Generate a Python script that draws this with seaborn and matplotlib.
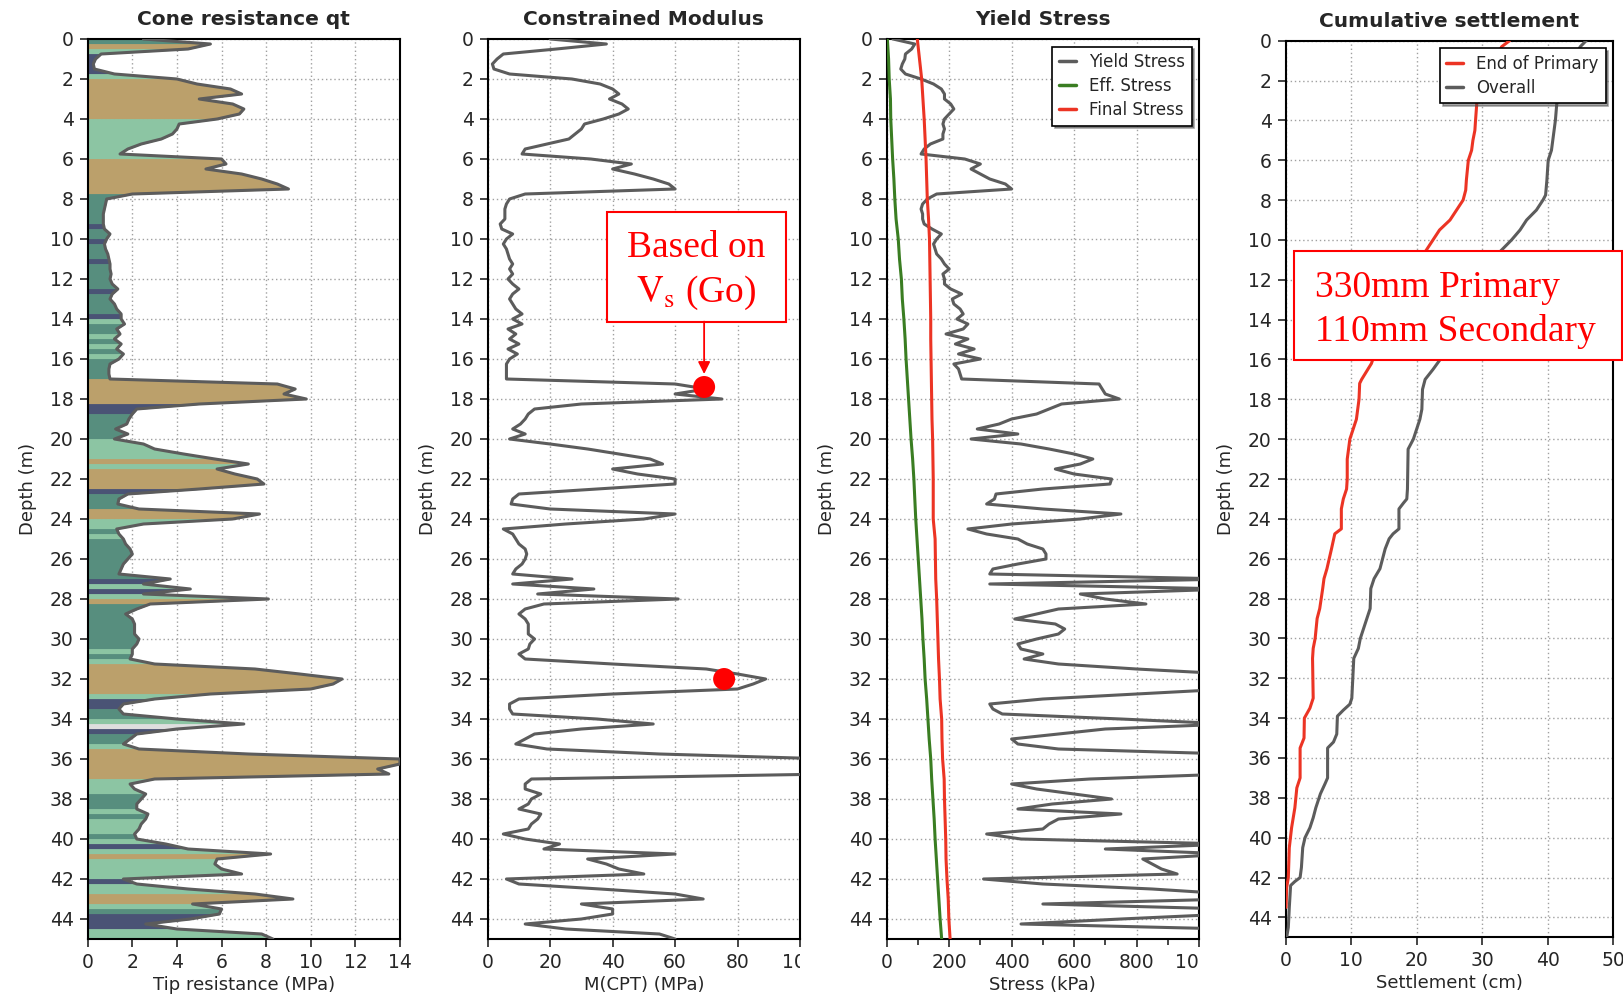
import numpy as np
import matplotlib
matplotlib.use("Agg")
import matplotlib.pyplot as plt
from matplotlib.patches import Rectangle
from matplotlib.ticker import MultipleLocator
from matplotlib.transforms import Bbox, TransformedBbox
import seaborn as sns

# CPT log sampled every 0.25 m from 0 to 45 m
depth = np.arange(181) * 0.25

qt = [2.5, 5.5, 4.5, 0.6, 0.35, 0.25, 0.3, 1.2,       # 0 - 1.75
      4.0, 4.9, 6.4, 6.9, 5.0, 6.5, 7.0, 6.8,         # 2
      5.8, 4.1, 4.0, 3.8, 3.3, 2.4, 1.8, 1.45,        # 4
      6.0, 6.2, 5.3, 6.9, 7.8, 8.5, 9.0, 2.0,         # 6
      0.85, 0.8, 0.75, 0.7, 0.7, 0.7, 0.75, 1.0,      # 8
      0.85, 0.75, 0.8, 0.9, 0.95, 1.0, 1.0, 1.05,     # 10
      1.0, 1.1, 1.35, 1.1, 1.0, 1.2, 1.3, 1.5,        # 12
      1.5, 1.65, 1.3, 1.45, 1.2, 1.5, 1.3, 1.6,       # 14
      1.4, 1.0, 0.95, 0.95, 1.0, 8.5, 9.3, 8.8,       # 16
      9.8, 5.0, 2.2, 2.0, 1.85, 1.75, 1.25, 1.8,      # 18
      1.2, 2.5, 3.0, 4.3, 5.7, 7.2, 5.8, 6.6,         # 20
      7.6, 7.9, 5.0, 1.8, 1.4, 1.35, 2.3, 7.7,        # 22
      6.5, 2.5, 1.3, 1.4, 1.6, 1.7, 1.9, 2.0,         # 24
      1.8, 1.6, 1.5, 1.4, 3.7, 2.5, 4.6, 2.5,         # 26
      8.1, 2.8, 2.2, 1.7, 2.0, 2.1, 2.1, 2.1,         # 28
      2.3, 2.2, 2.0, 2.0, 1.9, 3.0, 7.5, 9.5,         # 30
      11.4, 11.0, 10.0, 5.5, 3.0, 1.6, 1.4, 1.6,      # 32
      4.0, 7.0, 4.0, 2.2, 1.9, 1.6, 2.3, 7.2,         # 34
      14.0, 14.0, 13.0, 13.5, 3.0, 1.9, 2.1, 2.6,     # 36
      2.4, 2.2, 2.2, 2.7, 2.6, 2.4, 2.3, 2.1,         # 38
      2.2, 3.5, 4.5, 8.2, 5.8, 5.7, 6.0, 6.9,         # 40
      1.6, 2.2, 4.5, 7.5, 9.2, 4.7, 6.0, 5.9,         # 42
      4.6, 2.6, 4.0, 7.8, 8.3]                        # 44 - 45

m_cpt = [20, 38, 22, 5, 3, 1.5, 2, 7,
         27, 36, 40, 42, 39, 43, 45, 42,
         37, 31, 30, 28, 26, 19, 12, 11,
         33, 46, 40, 47, 53, 58, 60, 12,
         7, 6, 5.5, 5.5, 5.5, 4, 4.5, 8,
         6, 5, 6, 6.5, 7, 8, 7, 8,
         6.5, 8, 10, 8, 7, 8, 9, 11,
         8, 11, 6.5, 9, 7, 10, 6.5, 9.5,
         7, 6, 6, 6, 6, 60, 70, 60,
         75, 30, 15, 13, 12, 10.5, 8, 12,
         7, 20, 32, 42, 52, 56, 40, 48,
         60, 60, 35, 10, 8, 7.5, 20, 60,
         50, 25, 5, 8, 9, 10, 12, 12.5,
         12, 11, 9, 8, 27, 8, 34, 16,
         61, 18, 12, 10, 12, 13, 13, 13,
         15, 13.5, 13, 10, 12, 40, 70, 80,
         89, 85, 80, 40, 10, 7, 7, 8,
         35, 53, 30, 15, 12, 9, 19, 55,
         110, 110, 110, 110, 14, 12, 12, 17,
         14, 13, 10, 17, 16, 14, 13, 5,
         12, 23, 18, 60, 32, 38, 42, 50,
         6, 10, 36, 60, 69, 30, 40, 40,
         30, 12, 25, 55, 60]

yield_stress = [20, 90, 80, 60, 58, 50, 45, 60,
                110, 150, 175, 185, 185, 205, 215, 200,
                185, 180, 185, 180, 180, 140, 120, 110,
                250, 300, 270, 300, 330, 380, 400, 160,
                130, 115, 110, 115, 115, 120, 145, 175,
                160, 150, 155, 160, 175, 185, 200, 180,
                185, 185, 205, 240, 210, 215, 235, 245,
                225, 260, 245, 190, 260, 220, 280, 230,
                300, 215, 230, 235, 240, 680, 690, 700,
                745, 560, 520, 480, 400, 360, 290, 420,
                270, 430, 520, 600, 660, 620, 540, 600,
                720, 715, 500, 350, 345, 320, 500, 750,
                620, 400, 260, 320, 420, 450, 500, 510,
                510, 420, 340, 330, 1100, 330, 1100, 620,
                700, 830, 550, 480, 410, 540, 570, 550,
                480, 420, 430, 500, 440, 550, 800, 1100,
                1100, 1100, 1100, 800, 500, 330, 340, 370,
                750, 1100, 700, 550, 400, 420, 550, 1100,
                1100, 1100, 1100, 1100, 650, 400, 480, 600,
                720, 530, 420, 750, 550, 520, 500, 320,
                430, 1100, 700, 1100, 820, 850, 880, 930,
                310, 500, 850, 1100, 1100, 500, 1100, 1100,
                750, 430, 1100, 1100, 1100]

# soil behaviour bands (top, bottom, type)
soil_bands = [
    (0, 0.25, "T"), (0.25, 0.5, "S"), (0.5, 0.75, "G"), (0.75, 1.75, "B"), (1.75, 2, "G"),
    (2, 4, "S"), (4, 6, "G"), (6, 7.75, "S"), (7.75, 9.25, "T"), (9.25, 9.5, "B"),
    (9.5, 10, "T"), (10, 10.25, "B"), (10.25, 11, "T"), (11, 11.25, "B"), (11.25, 12.5, "T"),
    (12.5, 12.75, "B"), (12.75, 13.75, "T"), (13.75, 14, "B"), (14, 14.25, "G"), (14.25, 14.75, "T"),
    (14.75, 15, "G"), (15, 15.25, "T"), (15.25, 15.5, "G"), (15.5, 15.75, "T"), (15.75, 16, "G"),
    (16, 17, "T"), (17, 18.25, "S"), (18.25, 18.75, "B"), (18.75, 20, "T"), (20, 21, "G"),
    (21, 21.25, "S"), (21.25, 21.5, "G"), (21.5, 22.5, "S"), (22.5, 22.75, "B"), (22.75, 23.5, "T"),
    (23.5, 24, "S"), (24, 24.5, "G"), (24.5, 24.75, "T"), (24.75, 25, "G"), (25, 27, "T"),
    (27, 27.25, "B"), (27.25, 27.5, "G"), (27.5, 27.75, "B"), (27.75, 28, "G"), (28, 28.25, "S"),
    (28.25, 30.5, "T"), (30.5, 30.75, "G"), (30.75, 31, "T"), (31, 31.25, "G"), (31.25, 32.75, "S"),
    (32.75, 33, "G"), (33, 33.5, "B"), (33.5, 34, "T"), (34, 34.25, "G"), (34.25, 34.5, "W"),
    (34.5, 34.75, "B"), (34.75, 35.25, "T"), (35.25, 35.5, "G"), (35.5, 37, "S"), (37, 37.75, "G"),
    (37.75, 38.5, "T"), (38.5, 38.75, "G"), (38.75, 39, "T"), (39, 39.75, "G"), (39.75, 40, "T"),
    (40, 40.25, "G"), (40.25, 40.5, "B"), (40.5, 40.75, "G"), (40.75, 41, "S"), (41, 42, "G"),
    (42, 42.25, "B"), (42.25, 42.75, "G"), (42.75, 43.25, "S"), (43.25, 43.5, "G"), (43.5, 43.75, "T"),
    (43.75, 44.5, "B"), (44.5, 45, "G"),
]
soil_colors = {"S": "#bba06b", "G": "#8cc5a3", "T": "#578e7e", "B": "#4a5375", "W": "#dedede"}

# stresses every 1 m
stress_depth = np.arange(46)
eff_stress = [2, 6, 8, 12, 13, 16, 19, 23, 26, 30,
              37, 41, 47, 50, 55, 59, 62, 66, 70, 74,
              78, 83, 87, 90, 93, 97, 101, 105, 109, 113,
              116, 120, 123, 128, 132, 136, 141, 144, 148, 152,
              155, 159, 163, 167, 171, 176]
final_stress = [98, 105, 112, 116, 120, 123, 126, 128, 130, 134,
                137, 138, 139, 140, 141, 141, 142, 143, 144, 145,
                147, 148, 149, 149, 149, 155, 156, 157, 160, 162,
                164, 166, 169, 171, 176, 177, 179, 184, 185, 187,
                189, 190, 193, 197, 199, 203]

# cumulative settlement (cm)
eop_depth = [0, 0.3, 1, 2, 3.1, 4, 4.5, 5, 5.5, 6, 7, 7.5, 8, 8.5, 9, 9.5, 10, 10.5, 11, 12,
             13, 14, 15, 16, 16.2, 17, 17.2, 18, 19, 19.5, 20, 21, 22, 22.5, 23, 23.5, 24.5,
             24.75, 25.5, 26.5, 27, 27.5, 28.5, 29, 30, 30.5, 31, 33, 33.5, 34, 35, 35.5, 37,
             37.5, 38.5, 39.5, 40.5, 42, 42.5, 43.5]
eop_settle = [34.2, 33, 31.8, 30.2, 29.2, 29.0, 28.9, 28.6, 28.4, 27.9, 27.6, 27.5, 27.1, 26.1,
              25.1, 23.5, 22.5, 21.5, 20.5, 18.5, 16.8, 15.3, 14.2, 13.3, 13.1, 11.6, 11.3, 11.2,
              10.8, 10.3, 9.8, 9.4, 9.4, 9.3, 8.8, 8.5, 8.5, 7.5, 7.0, 6.3, 5.85, 5.65, 5.2, 4.8,
              4.5, 4.2, 4.1, 4.2, 3.7, 2.85, 2.8, 2.2, 2.2, 1.7, 1.4, 0.9, 0.55, 0.4, 0.15, 0.05]
overall_depth = [0, 0.3, 1, 2, 3.2, 4, 5, 5.5, 6, 7, 7.75, 8, 8.5, 9, 9.5, 10, 10.5, 11, 12, 13,
                 14, 15, 16, 16.5, 17, 17.5, 18.5, 19, 19.5, 20, 20.5, 22.5, 23, 23.2, 23.5, 24.5,
                 24.75, 25, 25.5, 26, 26.5, 27, 27.5, 28.5, 29, 29.5, 30, 30.5, 31, 33, 33.3, 33.6,
                 33.9, 34.8, 35.2, 35.5, 37, 37.3, 37.8, 38.5, 39, 39.5, 40, 40.5, 41.5, 42, 42.2,
                 42.4, 43.5, 44.5, 45]
overall_settle = [45.9, 45, 43.8, 42.3, 41.4, 41.2, 40.8, 40.6, 40.1, 39.9, 39.7, 39.3, 38.3, 36.8,
                  35.8, 34.5, 33.0, 31.5, 29.5, 27.8, 26.3, 25.0, 23.6, 22.5, 21.3, 20.9, 20.8,
                  20.5, 20.0, 19.5, 18.7, 18.6, 18.5, 18.0, 17.3, 17.3, 16.4, 15.8, 15.2, 14.8,
                  14.4, 13.5, 13.0, 12.9, 12.4, 11.9, 11.4, 11.1, 10.4, 10.1, 9.8, 8.8, 7.9, 7.8,
                  7.3, 6.4, 6.4, 6.0, 5.3, 4.6, 4.2, 3.7, 2.95, 2.6, 2.4, 2.2, 1.4, 0.75, 0.55,
                  0.4, 0.15]

# modulus points from shear wave velocity
vs_m = [69.3, 75.7]
vs_depth = [17.4, 32.0]

sns.set_style("ticks")
plt.rcParams["font.family"] = ["DejaVu Sans"]
plt.rcParams["mathtext.fontset"] = "stix"

GRAY = "#5c5c5c"
RED = "#ec3424"
GREEN = "#3a7d22"
W, H = 1624, 1001

fig = plt.figure(figsize=(W / 100, H / 100), dpi=100)
ax1 = fig.add_axes([87.7 / W, 1 - 939 / H, 312.3 / W, 900 / H])
ax2 = fig.add_axes([487.7 / W, 1 - 939 / H, 312.3 / W, 900 / H])
ax3 = fig.add_axes([886.7 / W, 1 - 939 / H, 312.3 / W, 900 / H])
ax4 = fig.add_axes([1285.7 / W, 1 - 937.3 / H, 327.3 / W, 896.6 / H])


def style_axis(ax, title, xlabel, xmax, xstep):
    ax.set_xlim(0, xmax)
    ax.set_ylim(45, 0)
    ax.set_xticks(np.arange(0, xmax + xstep / 2, xstep))
    ax.set_yticks(np.arange(0, 45, 2))
    ax.grid(True, color="#a0a0a0", lw=1, ls=(0, (1, 2)))
    ax.set_axisbelow(True)
    for s in ax.spines.values():
        s.set_visible(True)
        s.set_color("black")
        s.set_linewidth(1.5)
    ax.tick_params(direction="out", length=6, width=1.2, labelsize=13.5, pad=4)
    ax.set_title(title, fontsize=14.5, fontweight="bold", pad=10)
    ax.set_xlabel(xlabel, fontsize=13, labelpad=3)
    ax.set_ylabel("Depth (m)", fontsize=13, labelpad=9)


def clip_last_label(ax, x_px):
    lab = ax.xaxis.get_major_ticks()[-1].label1
    lab.set_clip_box(TransformedBbox(Bbox([[0, 0], [x_px / W, 1]]), fig.transFigure))
    lab.set_clip_on(True)


# 1. cone resistance with soil type fill
qt_arr = np.array(qt)
for top, bot, soil in soil_bands:
    sel = (depth >= top - 1e-6) & (depth <= bot + 1e-6)
    c = soil_colors[soil]
    ax1.fill_betweenx(depth[sel], 0, qt_arr[sel], color=c, ec=c, lw=0.6, zorder=1)
sns.lineplot(x=qt, y=depth, sort=False, estimator=None, color=GRAY, lw=2.2, ax=ax1, zorder=3)
style_axis(ax1, "Cone resistance qt", "Tip resistance (MPa)", 14, 2)

# 2. constrained modulus
sns.lineplot(x=m_cpt, y=depth, sort=False, estimator=None, color=GRAY, lw=2.2, ax=ax2, zorder=3)
sns.scatterplot(x=vs_m, y=vs_depth, s=250, color="red", edgecolor="none", ax=ax2, zorder=5)
style_axis(ax2, "Constrained Modulus", "M(CPT) (MPa)", 100, 20)
clip_last_label(ax2, 800)
ax2.add_patch(Rectangle((38.1, 8.64), 57.3, 5.49, facecolor="white", edgecolor="red",
                        lw=1.5, zorder=6))
ax2.text(66.6, 10.92, "Based on", ha="center", va="baseline", color="red", fontsize=27,
         family=["Liberation Serif"], zorder=7)
ax2.text(66.6, 13.13, r"$\mathrm{V_s}$ (Go)", ha="center", va="baseline", color="red",
         fontsize=27, family=["Liberation Serif"], zorder=7)
ax2.annotate("", xy=(69.3, 16.75), xytext=(69.3, 14.13),
             arrowprops=dict(arrowstyle="-|>", color="red", lw=1.3, mutation_scale=18,
                             shrinkA=0, shrinkB=0), zorder=7)

# 3. yield stress
sns.lineplot(x=yield_stress, y=depth, sort=False, estimator=None, color=GRAY, lw=2.2,
             ax=ax3, zorder=3, label="Yield Stress")
sns.lineplot(x=eff_stress, y=stress_depth, sort=False, estimator=None, color=GREEN, lw=2.2,
             ax=ax3, zorder=4, label="Eff. Stress")
sns.lineplot(x=final_stress, y=stress_depth, sort=False, estimator=None, color=RED, lw=2.2,
             ax=ax3, zorder=4, label="Final Stress")
style_axis(ax3, "Yield Stress", "Stress (kPa)", 1000, 200)
ax3.xaxis.set_minor_locator(MultipleLocator(100))
ax3.tick_params(axis="x", which="minor", direction="out", length=4, width=1.2)
clip_last_label(ax3, 1200)

# 4. settlement
sns.lineplot(x=eop_settle, y=eop_depth, sort=False, estimator=None, color=RED, lw=2.2,
             ax=ax4, zorder=4, label="End of Primary")
sns.lineplot(x=overall_settle, y=overall_depth, sort=False, estimator=None, color=GRAY, lw=2.2,
             ax=ax4, zorder=3, label="Overall")
style_axis(ax4, "Cumulative settlement", "Settlement (cm)", 50, 10)
ax4.add_patch(Rectangle((1.3, 10.54), 50.1, 5.48, facecolor="white", edgecolor="red",
                        lw=1.5, zorder=6, clip_on=False))
ax4.text(4.5, 12.84, "330mm Primary", ha="left", va="baseline", color="red", fontsize=27,
         family=["Liberation Serif"], zorder=7)
ax4.text(4.5, 15.05, "110mm Secondary", ha="left", va="baseline", color="red", fontsize=27,
         family=["Liberation Serif"], zorder=7)

for ax in (ax3, ax4):
    leg = ax.legend(loc="upper right", fontsize=12, handlelength=1.0, handletextpad=0.8,
                    borderaxespad=0.45, borderpad=0.4, labelspacing=0.35, fancybox=False,
                    shadow=True, framealpha=1, edgecolor="black")
    leg.get_frame().set_linewidth(1.2)
    for ln in leg.get_lines():
        ln.set_linewidth(2.5)

fig.savefig("out.png", dpi=100)
